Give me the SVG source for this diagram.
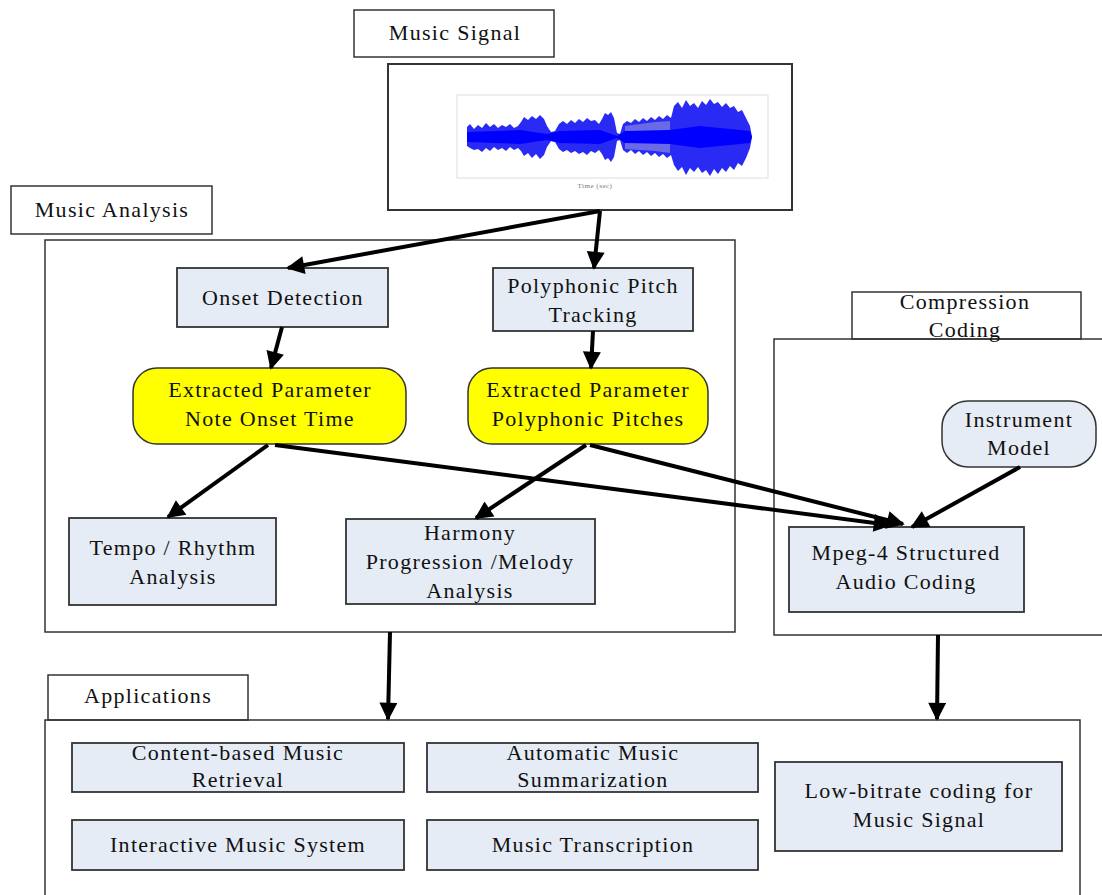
<svg xmlns="http://www.w3.org/2000/svg" width="1102" height="895" viewBox="0 0 1102 895">
<style>
text{font-family:"Liberation Serif","Times New Roman",serif;font-size:22px;fill:#111;text-anchor:middle;letter-spacing:1.3px}
.lbl{fill:#fff;stroke:#333;stroke-width:1.5}
.cont{fill:none;stroke:#333;stroke-width:1.5}
.box{fill:#e6ecf6;stroke:#333;stroke-width:1.8}
.yel{fill:#ffff00;stroke:#333;stroke-width:1.5}
.inst{fill:#e6ecf6;stroke:#333;stroke-width:1.5}
.edge{fill:none;stroke:#000;stroke-width:4;marker-end:url(#ah)}
.tiny{font-size:7px;fill:#777;letter-spacing:0.5px}
</style>
<defs>
<marker id="ah" viewBox="0 0 10 10" refX="9" refY="5" markerWidth="24" markerHeight="18" markerUnits="userSpaceOnUse" orient="auto">
<path d="M0,0 L10,5 L0,10 z" fill="#000"/>
</marker>
</defs>
<rect width="1102" height="895" fill="#fff"/>

<g id="containers">
<rect class="cont" x="45" y="240" width="690" height="392"/>
<rect class="lbl" x="852" y="292" width="229" height="47"/>
<rect class="cont" x="774" y="339" width="340" height="296"/>
<rect class="lbl" x="48" y="675" width="200" height="45"/>
<rect class="cont" x="45" y="720" width="1035" height="200"/>
</g>

<g id="music-signal-label">
<rect class="lbl" x="354" y="10" width="200" height="47"/>
<text x="455" y="40">Music Signal</text>
</g>

<g id="music-signal-plot">
<rect x="388" y="64" width="404" height="146" fill="#fff" stroke="#333" stroke-width="2"/>
<rect x="457" y="95" width="311" height="83" fill="none" stroke="#ddd" stroke-width="1"/>
<polygon fill="#2a2af5" points="467,127 470,124 474,129 478,125 482,128 486,123 490,127 494,124 498,128 502,125 506,127 510,124 514,128 518,126 521,122 524,117 528,120 532,116 536,119 540,115 544,119 547,126 551,132 555,131 559,124 563,121 567,124 571,120 575,123 579,119 583,122 587,118 591,121 595,120 599,124 602,119 605,113 608,115 611,112 614,118 617,133 620,134 623,124 627,121 631,123 635,119 639,122 643,118 647,121 651,117 655,120 659,116 663,119 667,115 671,118 674,106 678,102 682,108 686,100 690,106 694,103 698,108 702,101 706,105 710,99 714,104 718,102 722,107 726,103 730,108 734,106 738,112 742,110 746,118 750,126 752,137 750,148 746,158 742,166 738,163 734,170 730,166 726,172 722,168 718,174 714,169 710,176 706,170 702,173 698,167 694,172 690,168 686,175 682,167 678,171 674,165 671,155 667,158 663,154 659,157 655,153 651,156 647,152 643,155 639,151 635,154 631,150 627,153 623,150 620,140 617,141 614,157 611,162 608,158 605,160 602,154 599,150 595,153 591,151 587,155 583,152 579,154 575,151 571,153 567,150 563,152 559,149 555,142 551,141 547,147 544,155 540,159 536,154 532,158 528,153 524,156 521,151 518,148 514,150 510,147 506,151 502,148 498,150 494,147 490,151 486,148 482,152 478,149 474,150 470,148 467,146"/>
<polygon fill="#6a6ae6" points="625,126 640,124 655,122 670,121 670,153 655,151 640,150 625,149"/>
<polygon fill="#0000ff" points="467,132 520,130 547,134 560,131 600,130 617,136 625,131 670,130 700,126 750,131 752,137 750,143 700,148 670,144 625,143 617,138 600,144 560,143 547,140 520,144 467,142"/>
<text class="tiny" x="595" y="188">Time (sec)</text>
</g>

<g id="music-analysis-label">
<rect class="lbl" x="11" y="186" width="201" height="48"/>
<text x="112" y="217">Music Analysis</text>
</g>

<g id="onset-detection">
<rect class="box" x="177" y="268" width="211" height="59"/>
<text x="283" y="305">Onset Detection</text>
</g>

<g id="pitch-tracking">
<rect class="box" x="493" y="268" width="200" height="63"/>
<text x="593" y="293">Polyphonic Pitch</text>
<text x="593" y="322">Tracking</text>
</g>

<g id="param-onset">
<rect class="yel" x="133" y="368" width="273" height="76" rx="24"/>
<text x="270" y="397">Extracted Parameter</text>
<text x="270" y="426">Note Onset Time</text>
</g>

<g id="param-pitches">
<rect class="yel" x="468" y="368" width="240" height="76" rx="24"/>
<text x="588" y="397">Extracted Parameter</text>
<text x="588" y="426">Polyphonic Pitches</text>
</g>

<g id="tempo-rhythm">
<rect class="box" x="69" y="518" width="207" height="87"/>
<text x="173" y="555">Tempo / Rhythm</text>
<text x="173" y="584">Analysis</text>
</g>

<g id="harmony">
<rect class="box" x="346" y="519" width="249" height="85"/>
<text x="470" y="540">Harmony</text>
<text x="470" y="569">Progression /Melody</text>
<text x="470" y="598">Analysis</text>
</g>

<g id="compression-label">
<text x="965" y="309">Compression</text>
<text x="965" y="337">Coding</text>
</g>

<g id="instrument-model">
<rect class="inst" x="942" y="401" width="154" height="66" rx="26"/>
<text x="1019" y="427">Instrument</text>
<text x="1019" y="455">Model</text>
</g>

<g id="mpeg4">
<rect class="box" x="789" y="527" width="235" height="85"/>
<text x="906" y="560">Mpeg-4 Structured</text>
<text x="906" y="589">Audio Coding</text>
</g>

<g id="applications-label">
<text x="148" y="703">Applications</text>
</g>

<g id="content-retrieval">
<rect class="box" x="72" y="743" width="332" height="49"/>
<text x="238" y="760">Content-based Music</text>
<text x="238" y="787">Retrieval</text>
</g>

<g id="summarization">
<rect class="box" x="427" y="743" width="331" height="49"/>
<text x="593" y="760">Automatic Music</text>
<text x="593" y="787">Summarization</text>
</g>

<g id="interactive">
<rect class="box" x="72" y="820" width="332" height="50"/>
<text x="238" y="852">Interactive Music System</text>
</g>

<g id="transcription">
<rect class="box" x="427" y="820" width="331" height="50"/>
<text x="593" y="852">Music Transcription</text>
</g>

<g id="low-bitrate">
<rect class="box" x="775" y="762" width="287" height="89"/>
<text x="919" y="798">Low-bitrate coding for</text>
<text x="919" y="827">Music Signal</text>
</g>

<g id="connectors">
<line class="edge" x1="600" y1="211" x2="288" y2="268"/>
<line class="edge" x1="600" y1="211" x2="594" y2="268"/>
<line class="edge" x1="282" y1="327" x2="271" y2="368"/>
<line class="edge" x1="593" y1="331" x2="591" y2="368"/>
<line class="edge" x1="268" y1="445" x2="168" y2="517"/>
<line class="edge" x1="275" y1="445" x2="890" y2="525"/>
<line class="edge" x1="586" y1="445" x2="476" y2="518"/>
<line class="edge" x1="590" y1="445" x2="903" y2="524"/>
<line class="edge" x1="1020" y1="467" x2="912" y2="527"/>
<line class="edge" x1="390" y1="632" x2="388" y2="719"/>
<line class="edge" x1="938" y1="635" x2="937" y2="719"/>
</g>
</svg>
